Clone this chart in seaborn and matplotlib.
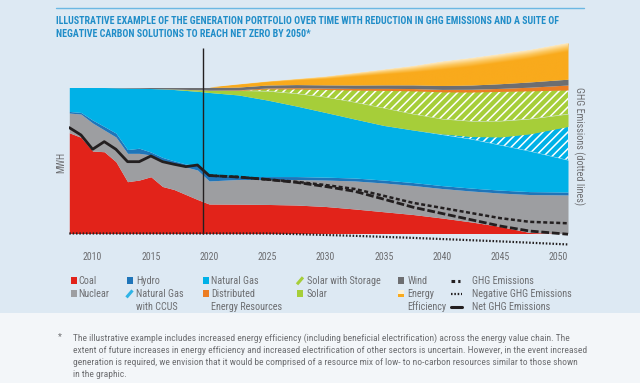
import numpy as np
import matplotlib
matplotlib.use("Agg")
import matplotlib.pyplot as plt
import seaborn as sns
import pandas as pd
import matplotlib.colors as mcolors
from matplotlib.patches import Rectangle
from matplotlib.lines import Line2D
from matplotlib.transforms import blended_transform_factory

# ---------------- data ----------------
years = [2008, 2009, 2010, 2011, 2012, 2013, 2014, 2015, 2016, 2017, 2018, 2019,
         2020, 2022.5, 2025, 2027.5, 2030, 2032.5, 2035, 2037.5, 2040, 2042.5,
         2045, 2047.5, 2050.8]
coal = [69.0, 65.9, 56.5, 56.0, 49.2, 35.5, 36.6, 38.9, 32.2, 30.1, 26.7, 23.3,
        20.2, 20.1, 19.9, 19.5, 18.5, 16.8, 14.9, 13.0, 10.6, 7.9, 4.8, 0.7, 0.0]
nuclear = [13.5, 15.9, 19.2, 14.9, 16.9, 19.4, 18.3, 14.9, 17.0, 17.5, 18.8, 20.2,
           15.8, 16.9, 17.1, 17.5, 18.1, 19.2, 19.7, 19.9, 20.2, 21.2, 22.9, 26.0, 26.4]
hydro = [1.1, 1.1, 2.0, 2.4, 2.7, 2.6, 3.5, 2.0, 2.9, 2.1, 2.1, 3.1,
         4.1, 2.0, 2.0, 2.0, 2.0, 2.0, 2.0, 2.0, 2.0, 2.0, 2.0, 2.0, 2.0]
natural_gas = [16.4, 17.1, 22.3, 26.7, 31.0, 42.1, 41.1, 43.5, 46.9, 48.9, 50.4, 50.8,
               56.5, 55.9, 52.4, 48.3, 44.3, 40.4, 37.4, 36.0, 35.0, 33.6, 30.9, 27.8, 21.9]
ng_ccus = [0, 0, 0, 0, 0, 0, 0, 0, 0, 0, 0, 0,
           0, 0, 0, 0, 0, 0, 0, 0, 0.4, 1.7, 5.5, 11.7, 23.0]
solar = [0, 0, 0, 0, 0, 0, 0, 0, 0.1, 0.3, 0.6, 1.0,
         1.4, 3.1, 6.2, 8.6, 10.6, 11.6, 12.0, 11.0, 10.3, 10.6, 11.0, 10.3, 8.6]
solar_storage = [0, 0, 0, 0, 0, 0, 0, 0, 0, 0, 0, 0,
                 0, 0, 1.4, 3.1, 5.1, 8.2, 12.0, 15.8, 18.5, 19.9, 20.2, 19.2, 16.4]
distributed = [0, 0, 0, 0, 0, 0, 0, 0, 0, 0, 0.1, 0.1,
               0.2, 0.4, 0.7, 0.9, 1.0, 1.2, 1.4, 1.6, 1.7, 1.9, 2.1, 2.5, 3.4]
wind = [0, 0, 0, 0, 0.2, 0.4, 0.5, 0.7, 0.9, 1.1, 1.3, 1.5,
        1.8, 1.9, 2.0, 2.1, 2.2, 2.3, 2.4, 2.5, 2.7, 2.9, 3.2, 3.6, 4.0]
efficiency = [0, 0, 0, 0, 0, 0, 0, 0, 0, 0, 0, 0,
              0, 1.8, 2.4, 3.8, 5.7, 8.2, 10.5, 12.9, 16.4, 18.5, 20.3, 21.9, 24.8]

hist_years = [2008, 2009, 2010, 2011, 2012, 2013, 2014, 2015, 2016, 2017, 2018, 2019, 2020]
net_hist = [72.5, 67.5, 57.7, 62.9, 57.7, 49.2, 49.2, 53.1, 49.2, 47.4, 45.8, 46.9, 39.7]
proj_years = [2020, 2022.5, 2025, 2027.5, 2030, 2032.5, 2035, 2037.5, 2040, 2042.5,
              2045, 2047.5, 2050.8]
ghg_proj = [39.7, 38.7, 37.0, 35.4, 33.2, 30.5, 25.8, 21.0, 17.5, 14.0, 10.5, 8.0, 7.0]
net_proj = [39.7, 38.7, 37.0, 35.0, 32.2, 28.9, 23.5, 18.0, 13.7, 9.4, 5.1, 1.7, -0.5]
neg_years = [2008, 2025, 2027.5, 2030, 2032.5, 2035, 2037.5, 2040, 2042.5, 2045, 2047.5, 2050.8]
negative = [0, 0, -0.4, -1.0, -1.6, -2.3, -3.0, -3.8, -4.6, -5.4, -6.3, -7.5]

tick_years = [2010, 2015, 2020, 2025, 2030, 2035, 2040, 2045, 2050]
today_year = 2019.5

title_lines = ["ILLUSTRATIVE EXAMPLE OF THE GENERATION PORTFOLIO OVER TIME WITH REDUCTION IN GHG EMISSIONS AND A SUITE OF",
               "NEGATIVE CARBON SOLUTIONS TO REACH NET ZERO BY 2050*"]
footnote_lines = [
    "The illustrative example includes increased energy efficiency (including beneficial electrification) across the energy value chain. The",
    "extent of future increases in energy efficiency and increased electrification of other sectors is uncertain. However, in the event increased",
    "generation is required, we envision that it would be comprised of a resource mix of low- to no-carbon resources similar to those shown",
    "in the graphic.",
]

# ---------------- style ----------------
sns.set_theme(style="white")
FAMILY = ['Roboto Condensed', 'Liberation Sans Narrow', 'Open Sans Condensed',
          'Liberation Sans', 'DejaVu Sans']
plt.rcParams['font.family'] = FAMILY
plt.rcParams['hatch.linewidth'] = 1.1

C_COAL = '#e2231a'
C_NUC = '#9d9ea1'
C_HYDRO = '#1f75b9'
C_NG = '#00b1e7'
C_SOLAR = '#a6ce39'
C_DER = '#ec7d23'
C_WIND = '#6d6e71'
C_EE = '#f9aa1c'
GRAY_TXT = '#6d6e71'
TITLE_C = '#208dc8'

W, H = 640, 383
def fx(px):
    return px / W
def fy(py):
    return 1 - py / H

fig = plt.figure(figsize=(6.4, 3.83), dpi=100)
fig.patch.set_facecolor('#f3f6f9')
fig.add_artist(Rectangle((0, fy(313)), 1, 1 - fy(313), transform=fig.transFigure,
                         facecolor='#dde9f3', edgecolor='none', zorder=0))
renderer = fig.canvas.get_renderer()

def fit(t, target_px):
    w = t.get_window_extent(renderer).width
    t.set_fontsize(t.get_fontsize() * target_px / w)
    return t.get_fontsize()

# axes: data x years, y units (baseline 0, 2019 total 100)
X0, X1 = 2008, 2050.8
Y0, Y1 = (233.5 - 250) / 1.46, (233.5 - 40) / 1.46
ax = fig.add_axes([fx(69.3), fy(250), fx(568) - fx(69.3), fy(40) - fy(250)])
ax.set_facecolor('none')

x = np.array(years, dtype=float)
stack = np.array([coal, nuclear, hydro, natural_gas, ng_ccus, solar,
                  solar_storage, distributed, wind, efficiency], dtype=float)
cum = np.vstack([np.zeros(len(years)), np.cumsum(stack, axis=0)])

styles = [
    dict(facecolor=C_COAL),
    dict(facecolor=C_NUC),
    dict(facecolor=C_HYDRO),
    dict(facecolor=C_NG),
    dict(facecolor=C_NG, hatch='////', edgecolor='white'),
    dict(facecolor=C_SOLAR),
    dict(facecolor=C_SOLAR, hatch='////', edgecolor='white'),
    dict(facecolor=C_DER),
    dict(facecolor=C_WIND),
]
for i, st in enumerate(styles):
    ax.fill_between(x, cum[i], cum[i + 1], linewidth=0, zorder=2, **st)

# energy efficiency: gradient image clipped to its band, lighter toward the top
lo = cum[9]
hi = cum[10]
eff = hi - lo
glow = np.minimum(0.38 * eff, 6.5)
ee_poly = ax.fill_between(x, lo, hi, facecolor=C_EE, linewidth=0, zorder=2)
gx = np.linspace(X0, X1, 700)
gy = np.linspace(Y0, Y1, 500)
GX, GY = np.meshgrid(gx, gy)
hi_i = np.interp(gx, x, hi)
gl_i = np.maximum(np.interp(gx, x, glow), 1e-6)
tt = np.clip((GY - (hi_i - gl_i)[None, :]) / gl_i[None, :], 0, 1)
stops_t = [0.0, 0.45, 1.0]
stops_c = [mcolors.to_rgb(C_EE), mcolors.to_rgb('#fcc75e'), mcolors.to_rgb('#fdf2da')]
img = np.zeros(GX.shape + (3,))
for ch in range(3):
    img[..., ch] = np.interp(tt, stops_t, [c[ch] for c in stops_c])
im = ax.imshow(img, extent=[X0, X1, Y0, Y1], origin='lower', aspect='auto',
               interpolation='bilinear', zorder=2.1)
im.set_clip_path(ee_poly.get_paths()[0], transform=ax.transData)

# "today" marker line
ax.vlines(today_year, 0, (233.5 - 48) / 1.46, color='#231f20', lw=1.0, zorder=4)

# emission lines (seaborn)
df_hist = pd.DataFrame({'year': hist_years, 'value': net_hist})
df_ghg = pd.DataFrame({'year': proj_years, 'value': ghg_proj})
df_net = pd.DataFrame({'year': proj_years, 'value': net_proj})
df_neg = pd.DataFrame({'year': neg_years, 'value': negative})

sns.lineplot(data=df_neg, x='year', y='value', ax=ax, color='#231f20', lw=1.6,
             linestyle=(0, (0.7, 0.8)), zorder=5)
sns.lineplot(data=df_ghg, x='year', y='value', ax=ax, color='#231f20', lw=1.8,
             linestyle=(0, (1.6, 1.0)), zorder=5)
sns.lineplot(data=df_net, x='year', y='value', ax=ax, color='#231f20', lw=2.0,
             linestyle=(0, (2.8, 1.0)), zorder=5)
sns.lineplot(data=df_hist, x='year', y='value', ax=ax, color='#231f20', lw=2.0,
             zorder=6)
ax.set_xlim(X0, X1)
ax.set_ylim(Y0, Y1)
ax.set_xlabel('')
ax.set_ylabel('')
ax.axis('off')

# x tick labels
tr = blended_transform_factory(ax.transData, fig.transFigure)
tick_texts = []
for yr in tick_years:
    tick_texts.append(ax.text(yr, fy(257.5), str(yr), transform=tr, ha='center',
                              va='center', fontsize=7.6, color=GRAY_TXT))
tfs = fit(tick_texts[0], 19.5)
for t in tick_texts:
    t.set_fontsize(tfs)

# axis labels
fig.text(fx(61), fy(162.5), 'MWH', rotation=90, ha='center', va='center',
         fontsize=tfs, color=GRAY_TXT)
rl = fig.text(fx(578.5), fy(146.5), 'GHG Emissions (dotted lines)', rotation=270,
              ha='center', va='center', fontsize=8.2, color=GRAY_TXT)
w = rl.get_window_extent(renderer).height
rl.set_fontsize(rl.get_fontsize() * 117 / w)

# title and rule
fig.add_artist(Line2D([fx(56), fx(584)], [fy(8.2), fy(8.2)], color='#6cb8e3', lw=1.0))
t1 = fig.text(fx(56), fy(20.5), title_lines[0], ha='left', va='center', fontsize=6.6,
              fontweight='bold', color=TITLE_C)
t2 = fig.text(fx(56), fy(33.8), title_lines[1], ha='left', va='center', fontsize=6.6,
              fontweight='bold', color=TITLE_C)
fit(t1, 499)
fit(t2, 251)

# legend
r1, r2, r3 = 280.8, 293.9, 306.5
leg_texts = []

def sq(px, py, color):
    fig.add_artist(Rectangle((fx(px), fy(py + 3.5)), 6.2 / W, 7 / H,
                             transform=fig.transFigure, facecolor=color,
                             edgecolor='none', linewidth=0))

def txt(px, py, s):
    t = fig.text(fx(px), fy(py), s, ha='left', va='center', fontsize=7.4, color=GRAY_TXT)
    leg_texts.append(t)
    return t

def slash(px, py, color):
    fig.add_artist(Line2D([fx(px), fx(px + 6)], [fy(py + 3.5), fy(py - 3.5)],
                          color=color, lw=2.2, solid_capstyle='butt'))

sq(70.6, r1, C_COAL); txt(78, r1, 'Coal')
sq(70.6, r2, C_NUC); txt(78, r2, 'Nuclear')
sq(126.5, r1, C_HYDRO); txt(136, r1, 'Hydro')
slash(126.5, r2, '#2fb4e6'); txt(136, r2, 'Natural Gas'); txt(136, r3, 'with CCUS')
sq(202.9, r1, C_NG); txt(211, r1, 'Natural Gas')
sq(202.9, r2, C_DER); txt(211, r2, 'Distributed'); txt(211, r3, 'Energy Resources')
slash(297, r1, C_SOLAR); txt(307, r1, 'Solar with Storage')
sq(297, r2, C_SOLAR); txt(307, r2, 'Solar')
sq(398, r1, C_WIND); txt(407.5, r1, 'Wind')
fig.add_artist(Rectangle((fx(398), fy(r2 + 3.5)), 6.2 / W, 3.5 / H,
                         transform=fig.transFigure, facecolor=C_EE, edgecolor='none'))
fig.add_artist(Rectangle((fx(398), fy(r2)), 6.2 / W, 3.5 / H,
                         transform=fig.transFigure, facecolor='#fdf0d2', edgecolor='none'))
txt(407.5, r2, 'Energy'); txt(407.5, r3, 'Efficiency')

fig.add_artist(Line2D([fx(451), fx(460)], [fy(r1), fy(r1)], color='#231f20', lw=2.2,
                      linestyle=(0, (1.2, 1.0))))
fig.add_artist(Line2D([fx(451), fx(462)], [fy(r2), fy(r2)], color='#231f20', lw=1.6,
                      linestyle=(0, (0.7, 0.8))))
fig.add_artist(Line2D([fx(451), fx(462)], [fy(r3), fy(r3)], color='#231f20', lw=2.2))
txt(471.5, r1, 'GHG Emissions')
neg_t = txt(471.5, r2, 'Negative GHG Emissions')
txt(471.5, r3, 'Net GHG Emissions')
lfs = fit(neg_t, 99)
for t in leg_texts:
    t.set_fontsize(lfs)

# footnote
fig.text(fx(58.4), fy(337), '*', ha='left', va='center', fontsize=6.6, color=GRAY_TXT)
foot = []
for i, line in enumerate(footnote_lines):
    foot.append(fig.text(fx(72.7), fy(338.4 + 12.0 * i), line, ha='left', va='center',
                         fontsize=6.6, color=GRAY_TXT))
ffs = fit(foot[1], 512)
for t in foot:
    t.set_fontsize(ffs)

fig.savefig('out.png', dpi=100, facecolor=fig.get_facecolor())
